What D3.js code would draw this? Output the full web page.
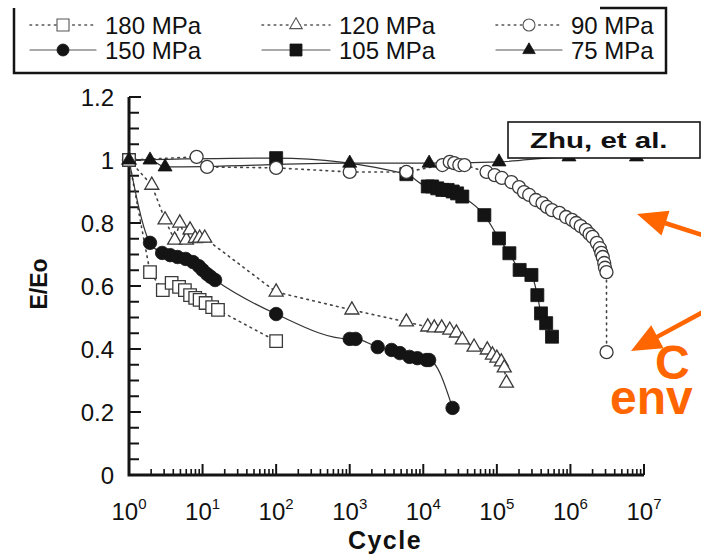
<!DOCTYPE html>
<html>
<head>
<meta charset="utf-8">
<script src="https://cdn.jsdelivr.net/npm/d3@7"></script>
<style>
  html, body { margin: 0; padding: 0; background: #fff; }
  svg { display: block; }
  text { font-family: "Liberation Sans", Arial, Helvetica, sans-serif; fill: #111; }
</style>
</head>
<body>
<svg id="chart" width="701" height="557"></svg>
<script>
// ---------------- DATA ----------------
const seriesNames = ["180 MPa", "150 MPa", "120 MPa", "105 MPa", "90 MPa", "75 MPa"];

// 180 MPa (open squares, dotted)
const cyc180 = [1, 1.93, 2.88, 3.8, 4.79, 5.75, 6.76, 7.94, 9.12, 11, 13.5, 16.2, 100];
const val180 = [1.0, 0.644, 0.587, 0.61, 0.597, 0.587, 0.571, 0.562, 0.556, 0.546, 0.533, 0.524, 0.425];

// 150 MPa (filled circles, solid)
const cyc150 = [1, 1.93, 2.82, 3.63, 4.57, 5.89, 7.41, 8.91, 10, 11.5, 12.9, 14.8, 100, 1000, 1200, 2400, 3700, 4800, 6500, 8300, 11000, 12000, 25000];
const val150 = [1.0, 0.737, 0.705, 0.698, 0.692, 0.686, 0.676, 0.663, 0.651, 0.638, 0.629, 0.619, 0.511, 0.432, 0.432, 0.406, 0.397, 0.387, 0.375, 0.371, 0.365, 0.365, 0.213];

// 120 MPa (open triangles, dotted)
const cyc120 = [1, 2.04, 3.09, 4.17, 4.9, 6.03, 6.76, 7.94, 9.12, 10.7, 100, 1070, 5890, 11500, 14100, 17800, 22900, 28200, 33900, 49000, 74100, 87100, 100000, 115000, 126000, 135000];
const val120 = [1.0, 0.92, 0.81, 0.746, 0.80, 0.746, 0.778, 0.751, 0.752, 0.752, 0.581, 0.524, 0.486, 0.47, 0.467, 0.467, 0.46, 0.451, 0.429, 0.406, 0.397, 0.381, 0.371, 0.359, 0.34, 0.292];

// 105 MPa (filled squares, solid)
const cyc105 = [1, 100, 5890, 11500, 13200, 15500, 18200, 21400, 25100, 28800, 33900, 67600, 107000, 148000, 204000, 295000, 355000, 398000, 468000, 562000];
const val105 = [1.0, 1.006, 0.955, 0.916, 0.916, 0.91, 0.905, 0.905, 0.9, 0.894, 0.884, 0.825, 0.751, 0.704, 0.651, 0.635, 0.571, 0.513, 0.482, 0.439];

// 90 MPa (open circles, dotted)
const cyc90 = [1, 8.3, 11.5, 100, 1000, 5890, 18200, 22900, 26300, 30900, 36300, 72400, 93300, 117000, 158000, 200000, 234000, 275000, 339000, 417000, 479000, 562000, 708000, 871000, 1050000, 1200000, 1380000, 1620000, 1820000, 2000000, 2290000, 2510000, 2630000, 2750000, 2880000, 2950000, 3090000, 3100000];
const val90 = [1.0, 1.01, 0.978, 0.975, 0.962, 0.962, 0.984, 0.994, 0.99, 0.984, 0.984, 0.962, 0.952, 0.943, 0.93, 0.914, 0.898, 0.889, 0.873, 0.863, 0.851, 0.841, 0.832, 0.819, 0.81, 0.80, 0.79, 0.778, 0.765, 0.756, 0.737, 0.72, 0.705, 0.692, 0.673, 0.658, 0.644, 0.39];

// 75 MPa (filled triangles, solid)
const cyc75 = [1, 1.93, 3.09, 1000, 12000, 107000, 955000, 7900000];
const val75 = [1.0, 1.0, 0.978, 0.99, 0.99, 0.994, 1.01, 1.01];

const xTickExps = ["0", "1", "2", "3", "4", "5", "6", "7"];
const yTicks = [0, 0.2, 0.4, 0.6, 0.8, 1, 1.2];
const yTickLabels = ["0", "0.2", "0.4", "0.6", "0.8", "1", "1.2"];

const noteText = "Zhu, et al.";
const orangeTexts = ["C", "env"];

// ---------------- SETUP ----------------
const svg = d3.select("#chart");
const ink = "#141414";
const orange = "#ff6600";

const x = d3.scaleLog().domain([1, 1e7]).range([129, 644]);
const y = d3.scaleLinear().domain([0, 1.2]).range([475, 97]);

const series = [
  { name: "180 MPa", c: cyc180, v: val180, marker: "square", filled: false, dotted: true },
  { name: "150 MPa", c: cyc150, v: val150, marker: "circle", filled: true, dotted: false },
  { name: "120 MPa", c: cyc120, v: val120, marker: "triangle", filled: false, dotted: true },
  { name: "105 MPa", c: cyc105, v: val105, marker: "square", filled: true, dotted: false },
  { name: "90 MPa", c: cyc90, v: val90, marker: "circle", filled: false, dotted: true },
  { name: "75 MPa", c: cyc75, v: val75, marker: "triangle", filled: true, dotted: false }
].map(s => ({ ...s, pts: s.c.map((c, i) => ({ c, v: s.v[i] })) }));

function markerPath(type, sz) {
  if (type === "square") return d3.symbol(d3.symbolSquare, sz * sz)();
  if (type === "circle") return d3.symbol(d3.symbolCircle, Math.PI * (sz / 2) * (sz / 2))();
  return d3.symbol(d3.symbolTriangle, Math.sqrt(3) / 4 * sz * sz)();
}
function markerSize(s) {
  if (s.marker === "square") return s.filled ? 13 : 12.5;
  if (s.marker === "circle") return s.filled ? 13.5 : 13;
  return 14;
}

// ---------------- AXES ----------------
const axisG = svg.append("g");
const yMinor = d3.range(0, 1.2001, 0.05);
axisG.selectAll(".ytick").data(yMinor).join("line")
  .attr("x1", 129).attr("x2", d => Math.abs(d / 0.2 - Math.round(d / 0.2)) < 1e-6 ? 141 : 139)
  .attr("y1", d => y(d)).attr("y2", d => y(d))
  .attr("stroke", ink).attr("stroke-width", 2);
const xMinor = [];
for (let e = 0; e < 7; e++) for (let m = 2; m <= 9; m++) xMinor.push(m * Math.pow(10, e));
axisG.selectAll(".xminor").data(xMinor).join("line")
  .attr("x1", d => x(d)).attr("x2", d => x(d))
  .attr("y1", 475).attr("y2", 469)
  .attr("stroke", ink).attr("stroke-width", 1.6);
axisG.selectAll(".xmajor").data(xTickExps).join("line")
  .attr("x1", d => x(Math.pow(10, +d))).attr("x2", d => x(Math.pow(10, +d)))
  .attr("y1", 475).attr("y2", 464)
  .attr("stroke", ink).attr("stroke-width", 2);
axisG.append("path")
  .attr("d", `M${x(1)},${y(1.2)} L${x(1)},${y(0)} L${x(1e7)},${y(0)}`)
  .attr("fill", "none").attr("stroke", ink).attr("stroke-width", 3);

axisG.selectAll(".ylab").data(yTicks).join("text")
  .attr("x", 114).attr("y", d => y(d) + 8.5)
  .attr("text-anchor", "end")
  .attr("font-size", 24)
  .text((d, i) => yTickLabels[i]);

const xl = axisG.selectAll(".xlab").data(xTickExps).join("text")
  .attr("x", d => x(Math.pow(10, +d)))
  .attr("y", 520)
  .attr("text-anchor", "middle")
  .attr("font-size", 24);
xl.append("tspan").text("10");
xl.append("tspan").attr("font-size", 15).attr("dy", -11).text(d => d);

svg.append("text")
  .attr("x", 385).attr("y", 549)
  .attr("text-anchor", "middle")
  .attr("font-size", 25).attr("font-weight", "bold")
  .attr("letter-spacing", 1.5)
  .text("Cycle");
svg.append("text")
  .attr("transform", "translate(47,284) rotate(-90)")
  .attr("text-anchor", "middle")
  .attr("font-size", 23).attr("font-weight", "bold")
  .text("E/Eo");

// ---------------- LINES ----------------
const plot = svg.append("g");
series.forEach(s => {
  const gen = d3.line()
    .x(d => x(d.c)).y(d => y(d.v))
    .curve(s.dotted ? d3.curveLinear : d3.curveMonotoneX);
  plot.append("path")
    .datum(s.pts)
    .attr("d", gen)
    .attr("fill", "none")
    .attr("stroke", s.dotted ? "#444" : "#333")
    .attr("stroke-width", s.dotted ? 1.6 : 1.2)
    .attr("stroke-dasharray", s.dotted ? "1.6,4.5" : null)
    .attr("stroke-linecap", "round");
});

// ---------------- MARKERS ----------------
const drawOrder = ["150 MPa", "105 MPa", "90 MPa", "120 MPa", "180 MPa", "75 MPa"];
drawOrder.forEach(nm => {
  const s = series.find(t => t.name === nm);
  const sz = markerSize(s);
  plot.append("g").selectAll("path").data(s.pts).join("path")
    .attr("d", markerPath(s.marker, sz))
    .attr("transform", d => `translate(${x(d.c)},${y(d.v)})`)
    .attr("fill", s.filled ? ink : "#fff")
    .attr("stroke", s.filled ? ink : "#3a3a3a")
    .attr("stroke-width", s.filled ? 0.8 : 1.3);
});

// ---------------- LEGEND ----------------
const lg = svg.append("g");
lg.append("path")
  .attr("d", "M14,8 L14,73 L666,73 L666,8 L600,8")
  .attr("fill", "none").attr("stroke", ink).attr("stroke-width", 2.5);
const legCols = [{ x1: 30, x2: 96, tx: 105 }, { x1: 262, x2: 330, tx: 339 }, { x1: 496, x2: 562, tx: 571 }];
const legRows = [25, 50];
const legLayout = {
  "180 MPa": [0, 0], "150 MPa": [0, 1],
  "120 MPa": [1, 0], "105 MPa": [1, 1],
  "90 MPa": [2, 0], "75 MPa": [2, 1]
};
series.forEach(s => {
  const [ci, ri] = legLayout[s.name];
  const col = legCols[ci], yy = legRows[ri];
  const g = lg.append("g");
  g.append("line")
    .attr("x1", col.x1).attr("x2", col.x2).attr("y1", yy).attr("y2", yy)
    .attr("stroke", "#555")
    .attr("stroke-width", s.dotted ? 1.6 : 1.2)
    .attr("stroke-dasharray", s.dotted ? "1.6,4.5" : null)
    .attr("stroke-linecap", "round");
  const cx = (col.x1 + col.x2) / 2;
  g.append("path")
    .attr("d", markerPath(s.marker, s.marker === "triangle" ? 12.5 : 12))
    .attr("transform", `translate(${cx},${yy})`)
    .attr("fill", s.filled ? ink : "#fff")
    .attr("stroke", s.filled ? ink : "#555")
    .attr("stroke-width", s.filled ? 0.8 : 1.1);
  g.append("text")
    .attr("x", col.tx).attr("y", yy + 8.5)
    .attr("font-size", 24)
    .text(s.name);
});

// ---------------- ANNOTATIONS ----------------
svg.append("rect")
  .attr("x", 508).attr("y", 122).attr("width", 192).attr("height", 36)
  .attr("fill", "#fff").attr("stroke", ink).attr("stroke-width", 1.6);
svg.append("text")
  .attr("transform", "translate(530,148) scale(1.34,1)")
  .attr("font-family", "'DejaVu Sans', Verdana, sans-serif")
  .attr("font-size", 22).attr("font-weight", "bold")
  .text(noteText);

function arrow(x1, y1, x2, y2) {
  const dx = x2 - x1, dy = y2 - y1, L = Math.hypot(dx, dy);
  const ux = dx / L, uy = dy / L, px = -uy, py = ux;
  const hl = 30, hw = 13;
  const bx = x2 - ux * hl, by = y2 - uy * hl;
  svg.append("line")
    .attr("x1", x1).attr("y1", y1).attr("x2", bx + ux * 4).attr("y2", by + uy * 4)
    .attr("stroke", orange).attr("stroke-width", 4.5);
  svg.append("path")
    .attr("d", `M${x2},${y2} L${bx + px * hw},${by + py * hw} L${bx - px * hw},${by - py * hw} Z`)
    .attr("fill", orange);
}
arrow(705, 236, 637, 214);
arrow(705, 311, 631, 351);

// two-line orange note (one text element, two lines)
const note2 = svg.append("text")
  .attr("font-family", "'DejaVu Sans', Verdana, sans-serif")
  .attr("font-size", 48).attr("font-weight", "bold")
  .style("fill", orange);
note2.append("tspan").attr("x", 655).attr("y", 379).text(orangeTexts[0]);
note2.append("tspan").attr("x", 610).attr("y", 414).text(orangeTexts[1]);
</script>
</body>
</html>
